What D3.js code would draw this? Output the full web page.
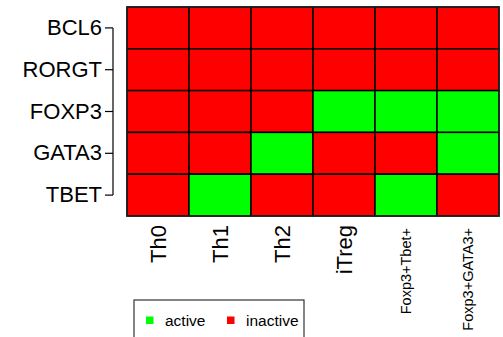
<!DOCTYPE html>
<html><head><meta charset="utf-8">
<script src="https://cdn.jsdelivr.net/npm/d3@7"></script>
<style>body{margin:0;background:#fff}svg{display:block}text{font-family:"Liberation Sans",Arial,sans-serif}</style>
</head><body>
<svg id="c" width="503" height="337"></svg>
<script>
const genes = ["BCL6","RORGT","FOXP3","GATA3","TBET"];
const cellTypes = ["Th0","Th1","Th2","iTreg","Foxp3+Tbet+","Foxp3+GATA3+"];
const BCL6  = [0,0,0,0,0,0];
const RORGT = [0,0,0,0,0,0];
const FOXP3 = [0,0,0,1,1,1];
const GATA3 = [0,0,1,0,0,1];
const TBET  = [0,1,0,0,1,0];
const states = ["inactive","active"];
const legendLabels = ["active","inactive"];

const values = {BCL6, RORGT, FOXP3, GATA3, TBET};
const cells = [];
genes.forEach(g => cellTypes.forEach((c,i) => cells.push({gene:g, type:c, v:values[g][i]})));

const svg = d3.select("#c");
const x = d3.scaleBand().domain(cellTypes).range([127,499]).padding(0);
const y = d3.scaleBand().domain(genes).range([7,216]).padding(0);
const color = d3.scaleOrdinal().domain(states).range(["#ff0000","#00ff00"]);

svg.append("g").selectAll("rect").data(cells).join("rect")
  .attr("x", d => x(d.type)).attr("y", d => y(d.gene))
  .attr("width", x.bandwidth()).attr("height", y.bandwidth())
  .attr("fill", d => color(states[d.v]))
  .attr("stroke", "#000").attr("stroke-width", 1.5);

svg.append("rect").attr("x",127).attr("y",7).attr("width",372).attr("height",209)
  .attr("fill","none").attr("stroke","#222").attr("stroke-width",1.5);

// y axis (R-style bracket)
const yAxis = d3.axisLeft(y).tickSize(8).tickSizeOuter(0).tickPadding(3);
const gy = svg.append("g").attr("transform","translate(113,0)").call(yAxis);
gy.select(".domain").attr("d", `M0,${y(genes[0])+y.bandwidth()/2}V${y(genes[genes.length-1])+y.bandwidth()/2}`)
  .attr("stroke","#000").attr("stroke-width",1.2);
gy.selectAll(".tick line").attr("stroke","#000").attr("stroke-width",1.2);
gy.selectAll(".tick text").attr("font-size",22).attr("fill","#000")
  .attr("font-family",'"Liberation Sans",Arial,sans-serif');

// x labels rotated
svg.append("g").selectAll("text").data(cellTypes).join("text")
  .attr("transform", d => `translate(${x(d)+x.bandwidth()/2},${d.length > 6 ? 228 : 225}) rotate(-90)`)
  .attr("text-anchor","end").attr("dy","0.35em")
  .attr("font-size", d => d.length > 6 ? 14.5 : 22)
  .attr("fill","#000").text(d => d);

// legend
const lg = svg.append("g");
lg.append("rect").attr("x",134).attr("y",300).attr("width",170).attr("height",50)
  .attr("fill","#fff").attr("stroke","#333").attr("stroke-width",1.2);
const lx = [146, 227];
legendLabels.forEach((l,i) => {
  lg.append("rect").attr("x",lx[i]).attr("y",316.5).attr("width",7.5).attr("height",7.5)
    .attr("fill", color(l));
  lg.append("text").attr("x",lx[i]+19).attr("y",326).attr("font-size",15.5)
    .attr("fill","#000").text(l);
});
</script>
</body></html>
